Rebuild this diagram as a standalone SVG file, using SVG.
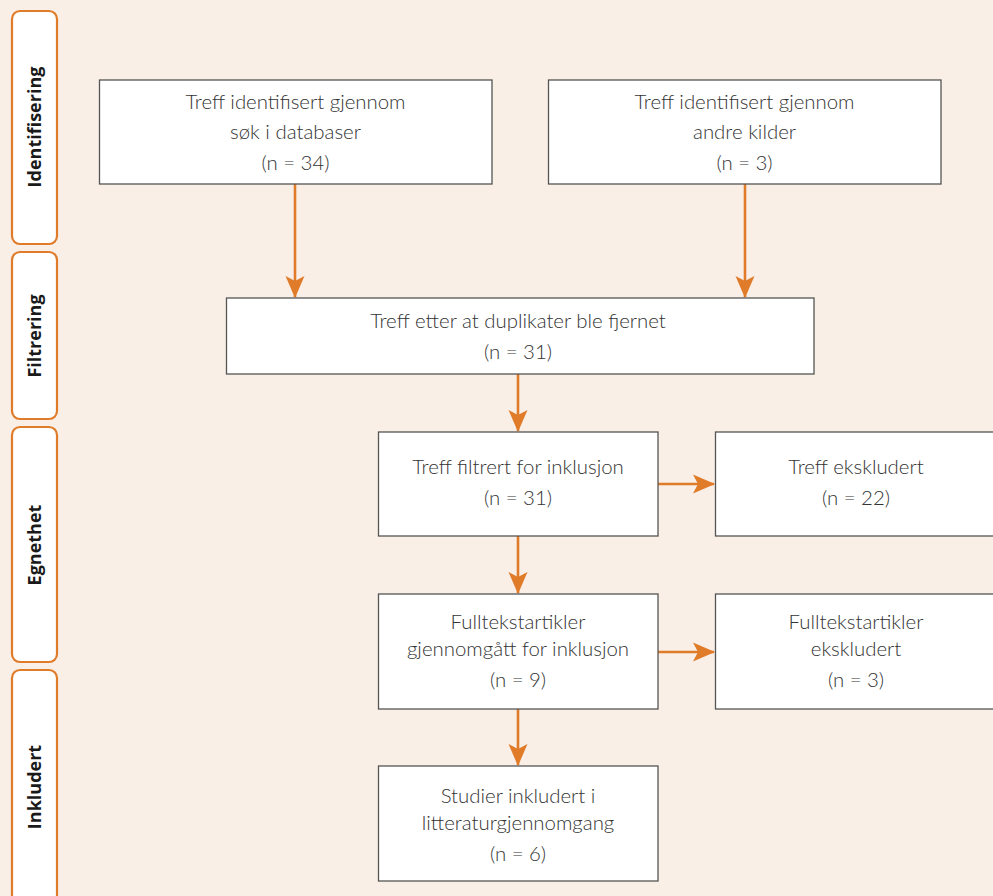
<svg xmlns="http://www.w3.org/2000/svg" width="993" height="896" viewBox="0 0 993 896">
<defs>
<style>
.bg{fill:#FAEFE6}
.box{fill:#fff;stroke:#555;stroke-width:1.3}
.tab{fill:#fff;stroke:#E07B2A;stroke-width:2.2}
.t{font-family:Lato,"Open Sans","Liberation Sans",sans-serif;font-weight:300;font-size:20.4px;fill:#333;text-anchor:middle}
.s{font-family:"Open Sans","Liberation Sans",sans-serif;font-weight:700;font-size:18px;fill:#1a1a1a;text-anchor:middle}
.c{stroke:#E07B2A;stroke-width:2.6;fill:none}
</style>
<marker id="ah" markerUnits="userSpaceOnUse" markerWidth="22" markerHeight="22" viewBox="0 0 22 22" refX="21" refY="11" orient="auto">
<path d="M0,1.5 L22,11 L0,20.5 L5,11 Z" fill="#E07B2A"/>
</marker>
</defs>
<rect class="bg" x="0" y="0" width="993" height="896"/>
<g id="tab-identifisering"><rect class="tab" x="12" y="11" width="45" height="233" rx="8"/><text class="s" transform="translate(41,127) rotate(-90)">Identifisering</text></g>
<g id="tab-filtrering"><rect class="tab" x="12" y="252" width="45" height="167" rx="8"/><text class="s" transform="translate(41,336) rotate(-90)">Filtrering</text></g>
<g id="tab-egnethet"><rect class="tab" x="12" y="427" width="45" height="235" rx="8"/><text class="s" transform="translate(41,545) rotate(-90)">Egnethet</text></g>
<g id="tab-inkludert"><rect class="tab" x="12" y="670" width="45" height="240" rx="8"/><text class="s" transform="translate(41,787) rotate(-90)">Inkludert</text></g>

<g id="connectors">
<line class="c" x1="295" y1="184" x2="295" y2="297" marker-end="url(#ah)"/>
<line class="c" x1="745" y1="184" x2="745" y2="297" marker-end="url(#ah)"/>
<line class="c" x1="518" y1="374" x2="518" y2="431" marker-end="url(#ah)"/>
<line class="c" x1="658" y1="484" x2="714" y2="484" marker-end="url(#ah)"/>
<line class="c" x1="518" y1="536" x2="518" y2="593" marker-end="url(#ah)"/>
<line class="c" x1="658" y1="652" x2="714" y2="652" marker-end="url(#ah)"/>
<line class="c" x1="518" y1="709" x2="518" y2="765" marker-end="url(#ah)"/>
</g>

<g id="n1"><rect class="box" x="99.5" y="80" width="392.5" height="104"/>
<text class="t" x="295.5" y="109">Treff identifisert gjennom</text>
<text class="t" x="295.5" y="139">søk i databaser</text>
<text class="t" x="295.5" y="170">(n = 34)</text></g>
<g id="n2"><rect class="box" x="548.5" y="80" width="392.5" height="104"/>
<text class="t" x="744.5" y="109">Treff identifisert gjennom</text>
<text class="t" x="744.5" y="139">andre kilder</text>
<text class="t" x="744.5" y="170">(n = 3)</text></g>
<g id="n3"><rect class="box" x="226.5" y="298" width="587.5" height="76"/>
<text class="t" x="518" y="328">Treff etter at duplikater ble fjernet</text>
<text class="t" x="518" y="359">(n = 31)</text></g>
<g id="n4"><rect class="box" x="378.5" y="432" width="279.5" height="104"/>
<text class="t" x="518" y="474">Treff filtrert for inklusjon</text>
<text class="t" x="518" y="505">(n = 31)</text></g>
<g id="n5"><rect class="box" x="715.5" y="432" width="290" height="104"/>
<text class="t" x="856" y="474">Treff ekskludert</text>
<text class="t" x="856" y="505">(n = 22)</text></g>
<g id="n6"><rect class="box" x="378.5" y="594" width="279.5" height="115"/>
<text class="t" x="518" y="629">Fulltekstartikler</text>
<text class="t" x="518" y="656">gjennomgått for inklusjon</text>
<text class="t" x="518" y="687">(n = 9)</text></g>
<g id="n7"><rect class="box" x="715.5" y="594" width="290" height="115"/>
<text class="t" x="856" y="629">Fulltekstartikler</text>
<text class="t" x="856" y="656">ekskludert</text>
<text class="t" x="856" y="687">(n = 3)</text></g>
<g id="n8"><rect class="box" x="378.5" y="766" width="279.5" height="115"/>
<text class="t" x="518" y="803">Studier inkludert i</text>
<text class="t" x="518" y="830">litteraturgjennomgang</text>
<text class="t" x="518" y="861">(n = 6)</text></g>
</svg>
